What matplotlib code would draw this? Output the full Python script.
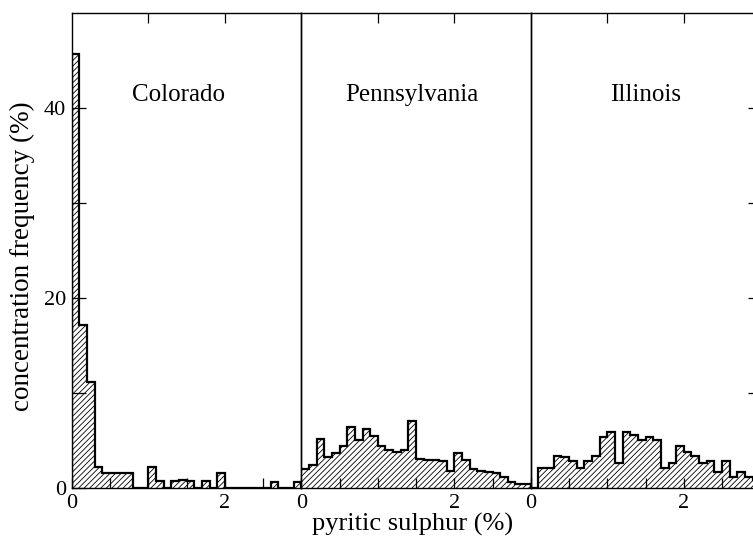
import numpy as np
import matplotlib
matplotlib.use('Agg')
import matplotlib.pyplot as plt

# ---- data: concentration frequency (%) per 0.1 % bin of pyritic sulphur ----
bin_edges = np.round(np.arange(0, 3.01, 0.1), 2)

colorado = [45.7, 17.2, 11.2, 2.25, 1.55, 1.55, 1.55, 1.55, 0, 0,
            2.25, 0.77, 0, 0.77, 0.85, 0.77, 0, 0.77, 0, 1.55,
            0, 0, 0, 0, 0, 0, 0.6, 0, 0, 0.6]
pennsylvania = [2.0, 2.4, 5.2, 3.3, 3.7, 4.45, 6.45, 5.1, 6.2, 5.5,
                4.4, 4.0, 3.8, 4.0, 7.1, 3.05, 2.95, 2.95, 2.8, 1.8,
                3.7, 3.0, 2.0, 1.8, 1.7, 1.6, 1.2, 0.66, 0.4, 0.4]
illinois = [0, 2.14, 2.14, 3.37, 3.3, 2.84, 2.14, 2.84, 3.37, 5.4,
            5.86, 2.6, 5.86, 5.6, 5.05, 5.4, 5.05, 2.07, 2.6, 4.45,
            3.8, 3.37, 2.6, 2.84, 1.72, 2.84, 1.2, 1.72, 1.2, 0.8]

panel_names = ['Colorado', 'Pennsylvania', 'Illinois']
panel_data = [colorado, pennsylvania, illinois]

plt.rcParams['font.family'] = ['Liberation Serif', 'DejaVu Serif']
plt.rcParams['hatch.linewidth'] = 0.6

W, H = 753, 545
fig = plt.figure(figsize=(W / 100, H / 100), dpi=100)

x0_px = 71.8          # left of first panel
px_per_unit = 76.5
panel_w = 3 * px_per_unit
bottom = 57 / H
height = 475 / H

for i, (name, vals) in enumerate(zip(panel_names, panel_data)):
    left = (x0_px + i * panel_w) / W
    ax = fig.add_axes([left, bottom, panel_w / W, height])
    ax.set_facecolor('none')

    # hatched fill + step outline
    ax.stairs(vals, bin_edges, fill=True, facecolor='white', edgecolor='black',
              hatch='//////', linewidth=0, zorder=1)
    ax.stairs(vals, bin_edges, color='black', linewidth=1.6, zorder=2)

    ax.set_xlim(0, 3)
    ax.set_ylim(0, 50)

    ax.set_xticks([0, 0.5, 1, 1.5, 2, 2.5], ['0', '', '', '', '2', ''])
    ax.tick_params(axis='x', direction='in', length=7, width=0.9,
                   labelsize=16, pad=4, top=False)
    # top ticks at 1 and 2
    sec = ax.secondary_xaxis('top')
    sec.set_xticks([1, 2], ['', ''])
    sec.tick_params(direction='in', length=7, width=0.9)
    sec.spines['top'].set_visible(False)

    if i == 0:
        ax.set_yticks([0, 10, 20, 30, 40], ['0', '', '20', '', '40'])
        ax.tick_params(axis='y', direction='in', length=10, width=0.9,
                       labelsize=16, pad=4)
    else:
        ax.set_yticks([])
    if i == 2:
        ax.tick_params(axis='y', which='both', right=True, left=False,
                       direction='in', length=9, width=0.9)
        ax.set_yticks([10, 20, 30, 40], ['', '', '', ''])

    for sp in ax.spines.values():
        sp.set_linewidth(1.0)

    ax.text(1.40 + 0.05 * i, 41.4, name, ha='center', va='center', fontsize=18)

fig.text(22 / W, 1 - 256 / H, 'concentration frequency (%)', rotation=90,
         ha='center', va='center', fontsize=19.5)
fig.text(413 / W, 1 - 524 / H, 'pyritic sulphur (%)', ha='center', va='center',
         fontsize=19)

fig.savefig('out.png', dpi=100)
